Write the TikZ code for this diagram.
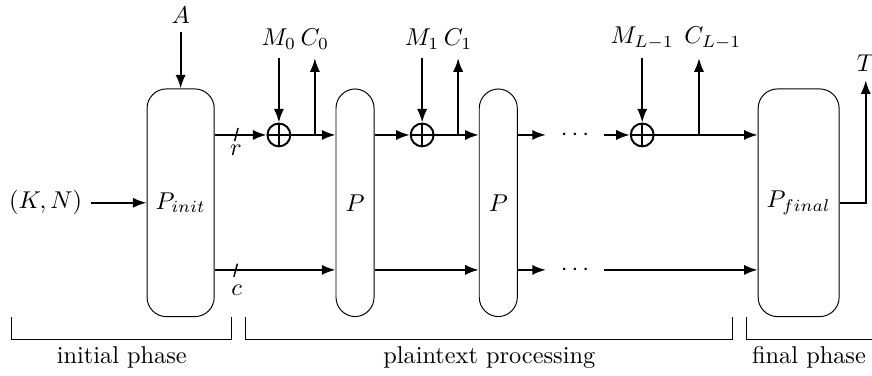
\documentclass[tikz,border=0pt]{standalone}
\usetikzlibrary{arrows.meta}
\begin{document}
\begin{tikzpicture}[>={Latex[length=5.6pt,width=4.2pt]},
    perm/.style={draw,rounded corners=0.28cm,minimum height=3.29cm,inner sep=2pt},
    xor/.style={draw,thick,circle,minimum size=0.33cm,inner sep=0pt},
    wire/.style={thick,->},
    dotsnode/.style={inner sep=0.21cm}]
    \useasboundingbox (0,0) rectangle (12.60,5.42);
    % permutations
    \node[perm,minimum width=0.97cm] (init) at (2.61,2.49) {$P_{init}$};
    \node[perm,minimum width=0.55cm] (p1) at (5.13,2.49) {$P$};
    \node[perm,minimum width=0.55cm] (p2) at (7.20,2.49) {$P$};
    \node[perm,minimum width=1.17cm] (fin) at (11.54,2.49) {$P_{final}$};
    \node[xor] (x0) at (4.03,3.47) {};
    \node[xor] (x1) at (6.10,3.47) {};
    \node[xor] (x2) at (9.28,3.47) {};
    \foreach \x in {x0,x1,x2}
        \draw[thick] (\x.north) -- (\x.south) (\x.west) -- (\x.east);
    \coordinate (low) at (0,1.52);
    \node[dotsnode] (du) at (8.31,3.47) {$\cdots$};
    \node[dotsnode] (dl) at (8.31,1.52) {$\cdots$};
    % inputs
    \node (a) at (2.61,5.20) {$A$};
    \draw[wire] (a) -- (init);
    \node (kn) at (0.66,2.49) {$(K,N)$};
    \draw[wire] (kn) -- (init);
    \node[above] (m0) at (4.03,4.58) {$M_0$};
    \node[above] (m1) at (6.10,4.58) {$M_1$};
    \node[above] (m2) at (9.28,4.58) {$M_{L-1}$};
    \draw[wire] (m0) -- (x0);
    \draw[wire] (m1) -- (x1);
    \draw[wire] (m2) -- (x2);
    % outputs
    \node[above] (c0) at (4.55,4.58) {$C_0$};
    \node[above] (c1) at (6.62,4.58) {$C_1$};
    \coordinate (cl) at (10.10,4.58);
    \node[above] (c2) at (10.30,4.58) {$C_{L-1}$};
    \draw[wire] (c0 |- x0) -- (c0);
    \draw[wire] (c1 |- x1) -- (c1);
    \draw[wire] (cl |- x2) -- (cl);
    \node[above] (t) at (12.51,4.26) {$T$};
    \draw[wire] (fin) -| (t);
    % rate part
    \draw[wire] (init.east |- x0) -- (x0);
    \draw[wire] (x0) -- (x0 -| p1.west);
    \draw[wire] (p1.east |- x0) -- (x1);
    \draw[wire] (x1) -- (x1 -| p2.west);
    \draw[wire] (p2.east |- x1) -- (du);
    \draw[wire] (du) -- (x2);
    \draw[wire] (x2) -- (x2 -| fin.west);
    \draw[semithick] (3.39,3.38) -- (3.44,3.57);
    \node (r) at (3.41,3.25) {$r$};
    % capacity part
    \draw[wire] (init.east |- low) -- (p1.west |- low);
    \draw[wire] (p1.east |- low) -- (p2.west |- low);
    \draw[wire] (p2.east |- low) -- (dl);
    \draw[wire] (dl) -- (fin.west |- low);
    \draw[semithick] (3.38,1.42) -- (3.43,1.61);
    \node (c) at (3.42,1.23) {$c$};
    % phases
    \draw (0.17,0.84) -- (0.17,0.52) -- (3.35,0.52) -- (3.35,0.84);
    \draw (3.54,0.84) -- (3.54,0.52) -- (10.59,0.52) -- (10.59,0.84);
    \draw (10.78,0.84) -- (10.78,0.52) -- (12.60,0.52) -- (12.60,0.84);
    \node (ph1) at (1.76,0.26) {initial phase};
    \node (ph2) at (7.07,0.26) {plaintext processing};
    \node (ph3) at (11.69,0.26) {final phase};
\end{tikzpicture}
\end{document}
